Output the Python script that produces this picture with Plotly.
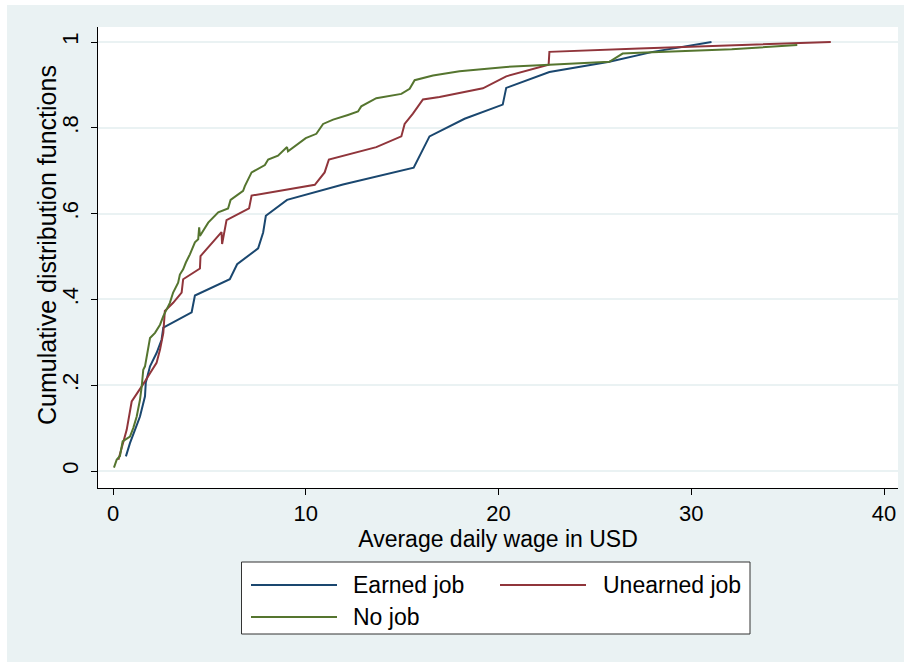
import plotly.graph_objects as go

# Empirical CDFs of average daily wage (USD) by job status
earned_x = [0.67, 0.88, 1.14, 1.40, 1.66, 1.70, 1.92, 2.26, 2.52, 2.61, 4.08, 4.25, 6.06, 6.44,
            7.53, 7.79, 7.93, 9.03, 11.93, 15.60, 16.42, 17.98, 18.24, 20.22, 20.40, 22.64,
            25.75, 28.00, 31.05]
earned_y = [0.034, 0.065, 0.096, 0.127, 0.174, 0.206, 0.244, 0.275, 0.306, 0.334, 0.370, 0.409,
            0.447, 0.482, 0.519, 0.556, 0.595, 0.632, 0.668, 0.707, 0.780, 0.815, 0.821, 0.854,
            0.893, 0.930, 0.954, 0.977, 1.000]

unearned_x = [0.28, 0.53, 0.71, 0.97, 1.40, 1.66, 1.92, 2.26, 2.44, 2.61, 2.69, 3.12, 3.56, 3.64,
              4.51, 4.54, 5.63, 5.66, 5.89, 7.06, 7.19, 10.47, 10.98, 11.20, 13.66, 14.96, 15.13,
              15.56, 16.08, 16.94, 19.19, 20.40, 22.60, 22.64, 27.30, 37.24]
unearned_y = [0.026, 0.065, 0.096, 0.162, 0.190, 0.209, 0.228, 0.252, 0.283, 0.322, 0.373, 0.392,
              0.416, 0.447, 0.472, 0.501, 0.557, 0.529, 0.585, 0.612, 0.642, 0.667, 0.696, 0.726,
              0.755, 0.780, 0.809, 0.833, 0.866, 0.872, 0.892, 0.920, 0.947, 0.977, 0.985, 1.000]

nojob_x = [0.05, 0.19, 0.36, 0.50, 0.88, 1.05, 1.23, 1.40, 1.49, 1.57, 1.66, 1.75, 1.92, 2.18,
           2.44, 2.61, 2.95, 3.12, 3.38, 3.47, 3.64, 3.78, 3.99, 4.25, 4.42, 4.47, 4.51, 4.94,
           5.46, 5.97, 6.10, 6.75, 6.84, 7.19, 7.88, 8.05, 8.56, 9.03, 9.08, 10.00, 10.55,
           10.90, 11.42, 12.19, 12.71, 12.88, 13.66, 14.96, 15.39, 15.65, 16.60, 17.98, 20.40,
           22.64, 25.75, 26.44, 27.30, 32.10, 35.50]
nojob_y = [0.008, 0.026, 0.035, 0.069, 0.080, 0.100, 0.127, 0.166, 0.197, 0.236, 0.244, 0.267,
           0.310, 0.322, 0.341, 0.361, 0.392, 0.416, 0.439, 0.458, 0.470, 0.486, 0.505, 0.533,
           0.540, 0.568, 0.548, 0.579, 0.603, 0.612, 0.632, 0.653, 0.664, 0.696, 0.713, 0.726,
           0.735, 0.755, 0.745, 0.776, 0.786, 0.809, 0.819, 0.830, 0.838, 0.850, 0.869, 0.879,
           0.891, 0.911, 0.922, 0.932, 0.942, 0.947, 0.954, 0.973, 0.975, 0.983, 0.993]

series_names = ["Earned job", "Unearned job", "No job"]
series_colors = ["#1A476F", "#90353B", "#55752F"]

x_ticks = [0, 10, 20, 30, 40]
y_ticks = [0, 0.2, 0.4, 0.6, 0.8, 1]
y_tick_text = ["0", ".2", ".4", ".6", ".8", "1"]

FONT = "Liberation Sans, Arial, Helvetica, sans-serif"
BG = "#EAF2F3"

W, H = 911, 667
L, R, T, B = 98, 13, 27, 179  # plot area occupies x 98..898, y 27..488 (pixels)


def px(x):
    return (x - L) / (W - L - R)


def py(y):
    return (H - B - y) / (H - B - T)


fig = go.Figure()
for xs, ys, name, col in zip([earned_x, unearned_x, nojob_x],
                             [earned_y, unearned_y, nojob_y],
                             series_names, series_colors):
    fig.add_trace(go.Scatter(x=xs, y=ys, mode="lines", name=name,
                             line=dict(color=col, width=2), showlegend=False))

shapes = [
    # graph region background with thin white frame
    dict(type="rect", xref="paper", yref="paper", layer="below",
         x0=px(7), x1=px(904), y0=py(662), y1=py(5), fillcolor=BG, line_width=0),
    # plot region
    dict(type="rect", xref="paper", yref="paper", layer="below",
         x0=0, x1=1, y0=0, y1=1, fillcolor="white", line_width=0),
    # legend box
    dict(type="rect", xref="paper", yref="paper",
         x0=px(241.5), x1=px(750), y0=py(634), y1=py(562),
         fillcolor="white", line=dict(color="#333333", width=1), layer="below"),
]

# y-axis title, rotated, placed left of the tick labels
annotations = [dict(text="Cumulative distribution functions", xref="paper", yref="paper",
                    x=px(47), y=py(245), xanchor="center", yanchor="middle",
                    textangle=-90, showarrow=False,
                    font=dict(family=FONT, size=25, color="black"))]

legend_rows = [(251, 351, 585), (500, 601, 585), (251, 351, 617)]
for (lx, tx, ly), name, col in zip(legend_rows, series_names, series_colors):
    shapes.append(dict(type="line", xref="paper", yref="paper",
                       x0=px(lx), x1=px(lx + 86), y0=py(ly), y1=py(ly),
                       line=dict(color=col, width=2)))
    annotations.append(dict(text=name, xref="paper", yref="paper", x=px(tx), y=py(ly),
                            xanchor="left", yanchor="middle", showarrow=False,
                            font=dict(family=FONT, size=23, color="black")))

fig.update_layout(
    width=W, height=H,
    margin=dict(l=L, r=R, t=T, b=B, pad=0),
    paper_bgcolor="white", plot_bgcolor="white",
    font=dict(family=FONT, color="black"),
    shapes=shapes, annotations=annotations,
    xaxis=dict(range=[-15 / 19.275, 785 / 19.275], tickvals=x_ticks,
               ticktext=[str(v) for v in x_ticks], showgrid=False, zeroline=False,
               showline=True, linecolor="black", linewidth=1, ticks="outside",
               ticklen=6, tickcolor="black", tickfont=dict(size=22),
               title=dict(text="Average daily wage in USD", font=dict(size=23), standoff=2)),
    yaxis=dict(range=[-17 / 429, 444 / 429], tickvals=y_ticks, ticktext=y_tick_text,
               showgrid=True, gridcolor=BG, gridwidth=1.5, zeroline=False,
               showline=True, linecolor="black", linewidth=1, ticks="outside",
               ticklen=6, tickcolor="black", tickangle=-90, tickfont=dict(size=22),
               ticklabelstandoff=4),
)

fig.write_html("out.html")
